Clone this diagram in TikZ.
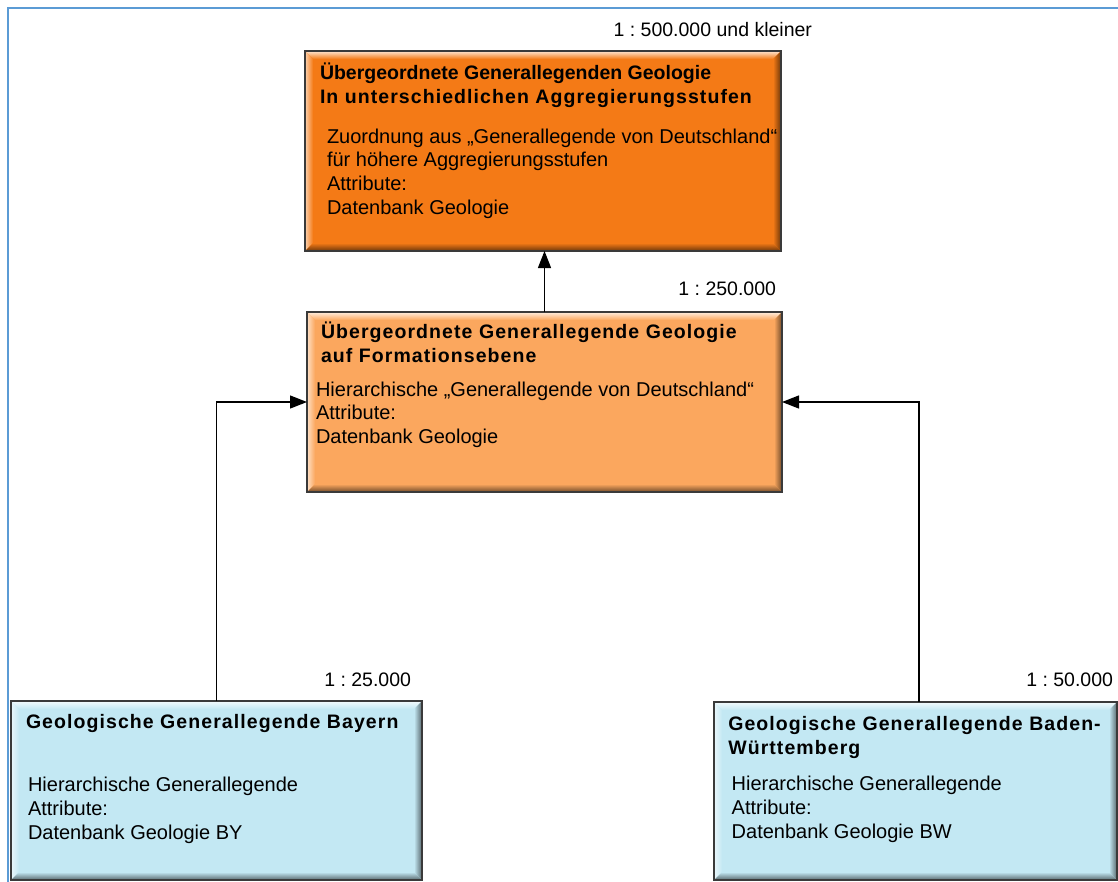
\documentclass[tikz,border=0pt]{standalone}
\usepackage{fontspec}
\setmainfont{Liberation Sans}
\newfontfamily\ttlfont{Liberation Sans}[LetterSpace=5.5]
\usetikzlibrary{arrows.meta,calc}
\frenchspacing
\definecolor{frameblue}{HTML}{5B9BD5}
\definecolor{orgdark}{HTML}{F47A16}
\definecolor{orglight}{HTML}{FBA75E}
\definecolor{lblue}{HTML}{C3E8F3}
\definecolor{edgegray}{HTML}{3A3A3A}
\tikzset{
  box/.style={fill=#1, draw=none, inner sep=0pt, outer sep=0pt, rectangle},
  txt/.style={anchor=base west, inner sep=0pt, outer sep=0pt, align=left, font=\fontsize{20}{23.7}\selectfont},
  ttl/.style={anchor=base west, inner sep=0pt, outer sep=0pt, align=left, font=\ttlfont\bfseries\fontsize{19.5}{24}\selectfont},
  scalelabel/.style={anchor=base east, inner sep=0pt, outer sep=0pt, font=\fontsize{19.5}{23.7}\selectfont},
  conn/.style={line width=1.3pt, -{Triangle[length=17pt,width=13pt]}},
}
\newcommand{\bevelbox}[2]{%
  \shade[top color=#2!20!white, bottom color=#2] (#1.north west) -- (#1.north east) -- ($(#1.north east)+(-8,8)$) -- ($(#1.north west)+(8,8)$) -- cycle;
  \shade[left color=#2!35!white, right color=#2] (#1.north west) -- ($(#1.north west)+(8,8)$) -- ($(#1.south west)+(8,-8)$) -- (#1.south west) -- cycle;
  \shade[top color=#2, bottom color=#2!45!black] (#1.south west) -- ($(#1.south west)+(8,-8)$) -- ($(#1.south east)+(-8,-8)$) -- (#1.south east) -- cycle;
  \shade[left color=#2, right color=#2!45!black] (#1.north east) -- ($(#1.north east)+(-8,8)$) -- ($(#1.south east)+(-8,-8)$) -- (#1.south east) -- cycle;
  \draw[edgegray, line width=1.3pt] (#1.north west) rectangle (#1.south east);
}
\begin{document}
\begin{tikzpicture}[x=1pt, y=-1pt]
\useasboundingbox (0,0) rectangle (1118,881);
\clip (0,0) rectangle (1118,881);
\fill[white] (0,0) rectangle (1118,881);
\draw[frameblue, line width=2.2pt] (8,890) -- (8,8) -- (1130,8);

% boxes
\node[box=orgdark, minimum width=476pt, minimum height=200pt] (top) at (543,151) {};
\bevelbox{top}{orgdark}
\node[box=orglight, minimum width=475pt, minimum height=180pt] (mid) at (544.5,402) {};
\bevelbox{mid}{orglight}
\node[box=lblue, minimum width=411pt, minimum height=179pt] (bl) at (216.5,790.5) {};
\bevelbox{bl}{lblue}
\node[box=lblue, minimum width=403pt, minimum height=178pt] (br) at (915.5,791) {};
\bevelbox{br}{lblue}
\coordinate (brc) at (919,702);

% texts (anchor = baseline of the last line)
\node[scalelabel] (l500) at (812,36) {1 : 500.000 und kleiner};
\node[scalelabel] (l250) at (776,295) {1 : 250.000};
\node[scalelabel] (l25) at (411,686) {1 : 25.000};
\node[scalelabel] (l50) at (1113,686) {1 : 50.000};

\node[ttl] (topttl) at (320,103.3) {{\normalfont\bfseries Übergeordnete Generallegenden Geologie}\\In unterschiedlichen Aggregierungsstufen};
\node[txt] (toptxt) at (327,214.3) {Zuordnung aus „Generallegende von Deutschland“\\für höhere Aggregierungsstufen\\Attribute:\\Datenbank Geologie};

\node[ttl] (midttl) at (321,362) {Übergeordnete Generallegende Geologie\\auf Formationsebene};
\node[txt] (midtxt) at (316,443.4) {Hierarchische „Generallegende von Deutschland“\\Attribute:\\Datenbank Geologie};

\node[ttl] (blttl) at (26,728.3) {Geologische Generallegende Bayern};
\node[txt] (bltxt) at (28,839) {Hierarchische Generallegende\\Attribute:\\Datenbank Geologie BY};

\node[ttl] (brttl) at (728.3,754) {Geologische Generallegende Baden-\\Württemberg};
\node[txt] (brtxt) at (731.7,838) {Hierarchische Generallegende\\Attribute:\\Datenbank Geologie BW};

% connectors
\draw[conn] (mid.north) -- (mid.north |- top.south);
\draw[conn] (bl.north) |- (mid.west);
\draw[conn] (brc) |- (mid.east);
\end{tikzpicture}
\end{document}
